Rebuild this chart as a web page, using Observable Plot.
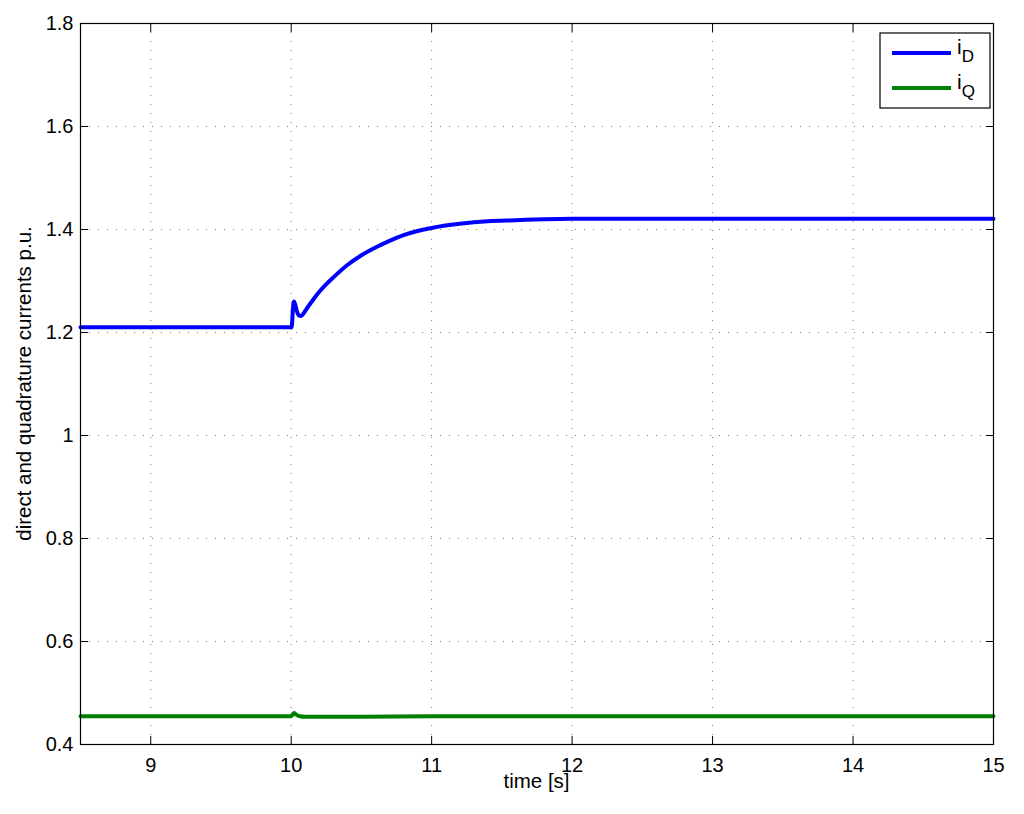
<!DOCTYPE html>
<html>
<head>
<meta charset="utf-8">
<script src="https://cdn.jsdelivr.net/npm/d3@7"></script>
<script src="https://cdn.jsdelivr.net/npm/@observablehq/plot@0.6"></script>
<style>
  html, body { margin: 0; padding: 0; background: #fff; }
  #chart { position: relative; width: 1024px; height: 814px; }
  #chart svg text { font-family: 'Liberation Sans', Arial, sans-serif !important; font-size: 20px !important; fill: #000; }
  #chart svg text.title { font-size: 20.5px !important; }
  #chart svg text .sub { font-size: 17px !important; }
  #chart svg text.leg { font-size: 21px !important; }
</style>
</head>
<body>
<div id="chart"></div>
<script>
// ---- data ----
const timeD = [8.5, 10.0, 10.005, 10.012, 10.02, 10.028, 10.04, 10.055, 10.07, 10.09, 10.12, 10.16, 10.2, 10.25, 10.3, 10.4, 10.5, 10.6, 10.7, 10.8, 10.9, 11.0, 11.2, 11.4, 11.6, 11.8, 12.0, 13.0, 14.0, 15.0];
const iD    = [1.21, 1.21, 1.214, 1.245, 1.26, 1.255, 1.242, 1.233, 1.232, 1.238, 1.250, 1.265, 1.279, 1.294, 1.307, 1.331, 1.350, 1.365, 1.378, 1.389, 1.397, 1.403, 1.411, 1.416, 1.418, 1.420, 1.421, 1.421, 1.421, 1.421];
const timeQ = [8.5, 10.0, 10.01, 10.02, 10.035, 10.06, 10.1, 10.5, 11.0, 12.0, 15.0];
const iQ    = [0.455, 0.455, 0.458, 0.461, 0.458, 0.455, 0.454, 0.454, 0.455, 0.455, 0.455];
const xTicks = [9, 10, 11, 12, 13, 14, 15];
const yTicks = [0.4, 0.6, 0.8, 1.0, 1.2, 1.4, 1.6, 1.8];
const yTickLabels = ["0.4", "0.6", "0.8", "1", "1.2", "1.4", "1.6", "1.8"];
const seriesNames = ["i_D", "i_Q"];
const seriesColors = ["#0000ff", "#008000"];

const dataD = timeD.map((t, i) => ({t, v: iD[i]}));
const dataQ = timeQ.map((t, i) => ({t, v: iQ[i]}));

const W = 1024, H = 814;

const plot = Plot.plot({
  width: W,
  height: H,
  marginLeft: 80,
  marginRight: 31,
  marginTop: 23,
  marginBottom: 70,
  style: {background: "#fff", color: "#000", overflow: "visible"},
  x: {domain: [8.5, 15]},
  y: {domain: [0.4, 1.8]},
  marks: [
    // dotted grid
    Plot.ruleX(xTicks.filter(d => d < 15), {x: d => d, stroke: "#7f7f7f", strokeWidth: 1, strokeDasharray: "1,8"}),
    Plot.ruleY(yTicks.filter(d => d > 0.4 && d < 1.8), {y: d => d, stroke: "#7f7f7f", strokeWidth: 1, strokeDasharray: "1,8"}),
    // axes with inward ticks (labels on bottom/left)
    Plot.axisX({anchor: "bottom", ticks: xTicks, tickSize: -8, tickPadding: 21, tickFormat: d => String(d), label: null, stroke: "#000"}),
    Plot.axisY({anchor: "left", ticks: yTicks, tickSize: -8, tickPadding: 15, tickFormat: (d, i) => yTickLabels[i], label: null, stroke: "#000"}),
    Plot.axisX({anchor: "top", ticks: xTicks, tickSize: -8, tickFormat: () => "", label: null, stroke: "#000"}),
    Plot.axisY({anchor: "right", ticks: yTicks, tickSize: -8, tickFormat: () => "", label: null, stroke: "#000"}),
    // series
    Plot.line(dataD, {x: "t", y: "v", stroke: seriesColors[0], strokeWidth: 4, curve: "monotone-x"}),
    Plot.line(dataQ, {x: "t", y: "v", stroke: seriesColors[1], strokeWidth: 4, curve: "monotone-x"}),
    Plot.frame({stroke: "#000", strokeWidth: 1.2})
  ]
});

const svg = d3.select(plot);
// remove empty tick texts of the unlabeled top/right axes
svg.selectAll("text").filter(function() { return this.textContent.trim() === ""; }).remove();

// axis titles
svg.append("text").attr("class", "title")
  .attr("x", (80 + 993) / 2).attr("y", 788)
  .attr("text-anchor", "middle")
  .text("time [s]");
svg.append("text").attr("class", "title")
  .attr("transform", `translate(31, ${(23 + 744) / 2}) rotate(-90)`)
  .attr("text-anchor", "middle")
  .text("direct and quadrature currents p.u.");

// legend
const lg = svg.append("g");
lg.append("rect").attr("x", 880).attr("y", 33).attr("width", 110).attr("height", 75)
  .attr("fill", "#fff").attr("stroke", "#000").attr("stroke-width", 1.2);
[0, 1].forEach(i => {
  const y = 53 + i * 35;
  lg.append("line").attr("x1", 892).attr("x2", 951).attr("y1", y).attr("y2", y)
    .attr("stroke", seriesColors[i]).attr("stroke-width", 4);
  const parts = seriesNames[i].split("_");
  const t = lg.append("text").attr("class", "leg").attr("x", 957).attr("y", y + 1)
    .attr("text-anchor", "start");
  t.append("tspan").text(parts[0]);
  t.append("tspan").attr("class", "sub").attr("dy", 8).text(parts[1]);
});

document.getElementById("chart").appendChild(plot);
</script>
</body>
</html>
